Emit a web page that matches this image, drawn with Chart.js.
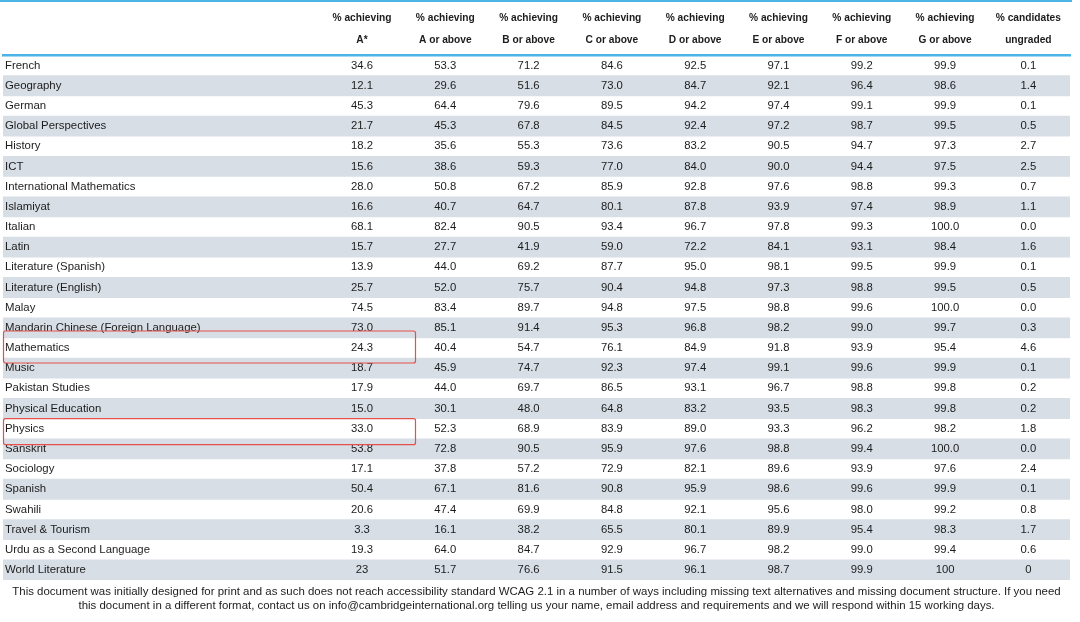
<!DOCTYPE html>
<html>
<head>
<meta charset="utf-8">
<script src="https://cdn.jsdelivr.net/npm/chart.js@4/dist/chart.umd.min.js"></script>
<style>
  html, body { margin: 0; padding: 0; background: #ffffff; }
  #wrap { width: 1080px; height: 622px; }
</style>
</head>
<body>
<div id="wrap"><canvas id="c" width="1080" height="622"></canvas></div>
<script>
// ---------- data ----------
const subjects = [
  'French', 'Geography', 'German', 'Global Perspectives', 'History', 'ICT',
  'International Mathematics', 'Islamiyat', 'Italian', 'Latin',
  'Literature (Spanish)', 'Literature (English)', 'Malay',
  'Mandarin Chinese (Foreign Language)', 'Mathematics', 'Music',
  'Pakistan Studies', 'Physical Education', 'Physics', 'Sanskrit',
  'Sociology', 'Spanish', 'Swahili', 'Travel & Tourism',
  'Urdu as a Second Language', 'World Literature'
];
const headerTop = ['% achieving', '% achieving', '% achieving', '% achieving', '% achieving',
                   '% achieving', '% achieving', '% achieving', '% candidates'];
const headerBottom = ['A*', 'A or above', 'B or above', 'C or above', 'D or above',
                      'E or above', 'F or above', 'G or above', 'ungraded'];

const aStar    = ['34.6','12.1','45.3','21.7','18.2','15.6','28.0','16.6','68.1','15.7','13.9','25.7','74.5','73.0','24.3','18.7','17.9','15.0','33.0','53.8','17.1','50.4','20.6','3.3','19.3','23'];
const aOrAbove = ['53.3','29.6','64.4','45.3','35.6','38.6','50.8','40.7','82.4','27.7','44.0','52.0','83.4','85.1','40.4','45.9','44.0','30.1','52.3','72.8','37.8','67.1','47.4','16.1','64.0','51.7'];
const bOrAbove = ['71.2','51.6','79.6','67.8','55.3','59.3','67.2','64.7','90.5','41.9','69.2','75.7','89.7','91.4','54.7','74.7','69.7','48.0','68.9','90.5','57.2','81.6','69.9','38.2','84.7','76.6'];
const cOrAbove = ['84.6','73.0','89.5','84.5','73.6','77.0','85.9','80.1','93.4','59.0','87.7','90.4','94.8','95.3','76.1','92.3','86.5','64.8','83.9','95.9','72.9','90.8','84.8','65.5','92.9','91.5'];
const dOrAbove = ['92.5','84.7','94.2','92.4','83.2','84.0','92.8','87.8','96.7','72.2','95.0','94.8','97.5','96.8','84.9','97.4','93.1','83.2','89.0','97.6','82.1','95.9','92.1','80.1','96.7','96.1'];
const eOrAbove = ['97.1','92.1','97.4','97.2','90.5','90.0','97.6','93.9','97.8','84.1','98.1','97.3','98.8','98.2','91.8','99.1','96.7','93.5','93.3','98.8','89.6','98.6','95.6','89.9','98.2','98.7'];
const fOrAbove = ['99.2','96.4','99.1','98.7','94.7','94.4','98.8','97.4','99.3','93.1','99.5','98.8','99.6','99.0','93.9','99.6','98.8','98.3','96.2','99.4','93.9','99.6','98.0','95.4','99.0','99.9'];
const gOrAbove = ['99.9','98.6','99.9','99.5','97.3','97.5','99.3','98.9','100.0','98.4','99.9','99.5','100.0','99.7','95.4','99.9','99.8','99.8','98.2','100.0','97.6','99.9','99.2','98.3','99.4','100'];
const ungraded = ['0.1','1.4','0.1','0.5','2.7','2.5','0.7','1.1','0.0','1.6','0.1','0.5','0.0','0.3','4.6','0.1','0.2','0.2','1.8','0.0','2.4','0.1','0.8','1.7','0.6','0'];

const highlighted = ['Mathematics', 'Physics'];

const footerLines = [
  'This document was initially designed for print and as such does not reach accessibility standard WCAG 2.1 in a number of ways including missing text alternatives and missing document structure. If you need',
  'this document in a different format, contact us on info@cambridgeinternational.org telling us your name, email address and requirements and we will respond within 15 working days.'
];

// ---------- derived ----------
const columns = [aStar, aOrAbove, bOrAbove, cOrAbove, dOrAbove, eOrAbove, fOrAbove, gOrAbove, ungraded];
const X_MIN = -4.31, X_MAX = 8.5;
const stripeData = subjects.map((s, i) => (i % 2 === 1 ? [X_MIN, X_MAX] : null));

const TEXT = '#1c1c1c';
const BLUE = '#4cb4e7';

const tablePlugin = {
  id: 'tableCells',
  beforeDraw(chart) {
    const ctx = chart.ctx;
    ctx.save();
    ctx.strokeStyle = BLUE;
    ctx.lineWidth = 2;
    ctx.beginPath();
    ctx.moveTo(0, 1);
    ctx.lineTo(chart.chartArea.right + 2, 1);
    ctx.stroke();
    ctx.restore();
  },
  afterDatasetsDraw(chart) {
    const ctx = chart.ctx;
    const xs = chart.scales.x, ys = chart.scales.y;
    ctx.save();
    ctx.fillStyle = TEXT;
    ctx.font = "11.3px 'Liberation Sans', Arial, sans-serif";
    ctx.textAlign = 'center';
    ctx.textBaseline = 'middle';
    columns.forEach((col, ci) => {
      const px = xs.getPixelForValue(ci);
      col.forEach((v, ri) => {
        ctx.fillText(v, px, ys.getPixelForValue(ri));
      });
    });
    ctx.restore();
  },
  afterDraw(chart, args, opts) {
    const ctx = chart.ctx;
    const ys = chart.scales.y;
    const ca = chart.chartArea;
    ctx.save();
    ctx.strokeStyle = '#e4504b';
    ctx.lineWidth = 1.2;
    highlighted.forEach((name, k) => {
      const ri = subjects.indexOf(name);
      const cy = ys.getPixelForValue(ri);
      const off = opts.boxOffsets[k];
      const top = cy + off[0], bottom = cy + off[1];
      ctx.beginPath();
      if (ctx.roundRect) ctx.roundRect(ca.left + 0.5, top, opts.boxWidth, bottom - top, 2);
      else ctx.rect(ca.left + 0.5, top, opts.boxWidth, bottom - top);
      ctx.stroke();
    });
    ctx.restore();
  }
};

new Chart(document.getElementById('c'), {
  type: 'bar',
  data: {
    labels: subjects,
    datasets: [{
      label: 'stripes',
      data: stripeData,
      backgroundColor: '#d7dee5',
      borderWidth: 0,
      barPercentage: 1,
      categoryPercentage: 1
    }]
  },
  options: {
    indexAxis: 'y',
    responsive: false,
    animation: false,
    layout: { padding: { top: 0, left: 3, right: 10, bottom: 0 } },
    plugins: {
      legend: { display: false },
      tooltip: { enabled: false },
      title: {
        display: true,
        position: 'bottom',
        text: footerLines,
        color: TEXT,
        font: { family: "'Liberation Sans', Arial, sans-serif", size: 11.45, weight: 'normal', lineHeight: 14 / 11.45 },
        padding: { top: 5, bottom: 9 }
      },
      tableCells: { boxOffsets: [[-17, 15], [-10, 16]], boxWidth: 412 }
    },
    scales: {
      x: {
        type: 'linear',
        position: 'top',
        min: X_MIN,
        max: X_MAX,
        grid: { display: false, drawTicks: false },
        border: { display: true, color: BLUE, width: 2.5 },
        afterBuildTicks(scale) { scale.ticks = headerTop.map((_, i) => ({ value: i })); },
        afterFit(scale) { scale.height = 55.5; },
        ticks: {
          autoSkip: false,
          maxRotation: 0,
          padding: 4,
          color: TEXT,
          font: { family: "'Liberation Sans', Arial, sans-serif", size: 10.2, weight: 'bold', lineHeight: 22 / 10.2 },
          callback: (v, i) => [headerTop[i], headerBottom[i]]
        }
      },
      y: {
        type: 'category',
        position: 'left',
        grid: { display: false, drawTicks: false },
        border: { display: false },
        afterFit(scale) { scale.width = 0; },
        ticks: {
          z: 1,
          mirror: true,
          padding: 2,
          color: TEXT,
          font: { family: "'Liberation Sans', Arial, sans-serif", size: 11.4 },
          autoSkip: false
        }
      }
    }
  },
  plugins: [tablePlugin]
});
</script>
</body>
</html>
